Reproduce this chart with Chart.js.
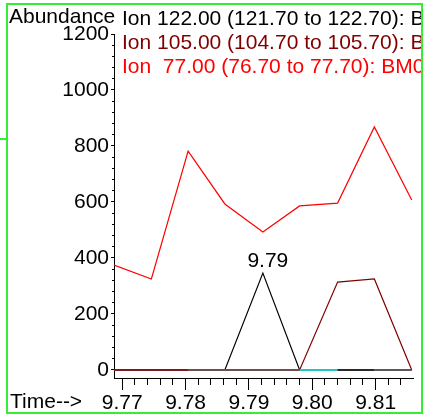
<!DOCTYPE html>
<html><head><meta charset="utf-8">
<script src="https://cdn.jsdelivr.net/npm/chart.js@4.4.1/dist/chart.umd.min.js"></script>
<style>
html,body{margin:0;padding:0;background:#fff;overflow:hidden}
#wrap{position:relative;width:425px;height:417px;background:#fff}
canvas{position:absolute;left:0;top:0}
#clip{position:absolute;left:0;top:0;width:421px;height:417px;overflow:hidden;pointer-events:none}
.t{position:absolute;font-family:"Liberation Sans",Arial,sans-serif;font-size:21px;white-space:pre;line-height:21px}
#frame{position:absolute;left:6px;top:3px;width:413px;height:407px;border:2px solid #33ee33;pointer-events:none}
#nub{position:absolute;left:0;top:138px;width:7px;height:2px;background:#33ee33}
</style></head>
<body>
<div id="wrap">
  <canvas id="c" width="425" height="417"></canvas>
  <div id="clip">
    <div class="t" style="left:9px;top:5px;color:#000">Abundance</div>
    <div class="t" style="left:122px;top:7px;color:#000">Ion 122.00 (121.70 to 122.70): BM0</div>
    <div class="t" style="left:122px;top:31px;color:#800000">Ion 105.00 (104.70 to 105.70): BM0</div>
    <div class="t" style="left:122px;top:55px;color:#ff0000">Ion  77.00 (76.70 to 77.70): BM0</div>
    <div class="t" style="left:10px;top:390px;color:#000">Time--&gt;</div>
  </div>
  <div id="frame"></div>
  <div id="nub"></div>
</div>
<script>
// ---- data ----
const times   = [9.7687, 9.7746, 9.7804, 9.7862, 9.7922, 9.7980, 9.8040, 9.8098, 9.8157];
const ion122  = [0, 0, 0, 0, 346, 0, 0, 0, 0];
const ion105  = [0, 0, 0, 0, 0, 0, 314, 325, 0];
const ion77   = [375, 325, 782, 593, 493, 586, 596, 868, 607];
const baseline = [0, 0, 0, 0, 0, 0, 0, 0, 0];
const yTicks  = [0, 200, 400, 600, 800, 1000, 1200];
const yMinorTicks = [0,40,80,120,160,200,240,280,320,360,400,440,480,520,560,600,640,680,720,760,800,840,880,920,960,1000,1040,1080,1120,1160,1200];
const xTicks  = [9.77, 9.78, 9.79, 9.80, 9.81];
const xMinorTicks = [9.770,9.772,9.774,9.776,9.778,9.780,9.782,9.784,9.786,9.788,9.790,9.792,9.794,9.796,9.798,9.800,9.802,9.804,9.806,9.808,9.810,9.812,9.814];
const peakLabel = "9.79";
const xMin = 9.7687, xMax = 9.8159, yMin = -28.6, yMax = 1200;

// ---- styles ----
const FONT = '"Liberation Sans", Arial, sans-serif';
const baseSegColors = ['#7a1c1c','#7a1c1c','#6e5050','#6e5050','#6e5050','#22c4c4','#2a2a2a','#5a5a5a'];

const toPts = arr => arr.map((v, i) => ({x: times[i], y: v}));

const peakLabelPlugin = {
  id: 'peakLabel',
  afterDatasetsDraw(chart) {
    const meta = chart.getDatasetMeta(1);
    const idx = ion122.indexOf(Math.max(...ion122));
    const pt = meta.data[idx];
    const ctx = chart.ctx;
    ctx.save();
    ctx.font = '21px ' + FONT;
    ctx.fillStyle = '#000';
    ctx.textAlign = 'center';
    ctx.textBaseline = 'alphabetic';
    ctx.fillText(peakLabel, pt.x + 5, pt.y - 6);
    ctx.restore();
  }
};

new Chart(document.getElementById('c'), {
  type: 'line',
  data: {
    datasets: [
      {label: 'base', data: toPts(baseline), borderWidth: 2, pointRadius: 0,
       segment: {borderColor: c => baseSegColors[c.p0DataIndex]}, borderColor: '#6e5050'},
      {label: 'Ion 122.00', data: toPts(ion122), borderColor: '#000000', borderWidth: 1.2, pointRadius: 0},
      {label: 'Ion 105.00', data: toPts(ion105), borderColor: '#800000', borderWidth: 1.2, pointRadius: 0},
      {label: 'Ion 77.00', data: toPts(ion77), borderColor: '#ff0000', borderWidth: 1.2, pointRadius: 0}
    ]
  },
  options: {
    responsive: false,
    animation: false,
    devicePixelRatio: 1,
    layout: {padding: {top: 34, right: 12, left: 0, bottom: 0}},
    plugins: {legend: {display: false}, tooltip: {enabled: false}},
    elements: {line: {tension: 0}},
    scales: {
      x: {
        type: 'linear', position: 'bottom', weight: 1, min: xMin, max: xMax,
        afterBuildTicks: s => { s.ticks = xTicks.map(v => ({value: v})); },
        afterFit: s => { s.height = 39; },
        border: {display: true, color: '#000', width: 1},
        grid: {drawOnChartArea: false, drawTicks: true, tickLength: 12, color: '#000', tickColor: '#000', lineWidth: 1},
        ticks: {color: '#000', font: {family: FONT, size: 21}, padding: 1, maxRotation: 0, autoSkip: false,
                callback: v => Number(v).toFixed(2)}
      },
      xMinor: {
        type: 'linear', position: 'bottom', weight: 0, min: xMin, max: xMax,
        afterBuildTicks: s => { s.ticks = xMinorTicks.map(v => ({value: v})); },
        afterFit: s => { s.height = 0; },
        border: {display: false},
        grid: {drawOnChartArea: false, drawTicks: true, tickLength: 7, color: '#000', tickColor: '#000', lineWidth: 1},
        ticks: {display: false}
      },
      y: {
        type: 'linear', position: 'left', weight: 1, min: yMin, max: yMax,
        afterBuildTicks: s => { s.ticks = yTicks.map(v => ({value: v})); },
        afterFit: s => { s.width = 114; },
        border: {display: true, color: '#000', width: 1},
        grid: {drawOnChartArea: false, drawTicks: true, tickLength: 3, color: '#000', tickColor: '#000', lineWidth: 1},
        ticks: {color: '#000', font: {family: FONT, size: 21}, padding: 2, callback: v => String(v)}
      },
      yMinor: {
        type: 'linear', position: 'left', weight: 0, min: yMin, max: yMax,
        afterBuildTicks: s => { s.ticks = yMinorTicks.map(v => ({value: v})); },
        afterFit: s => { s.width = 0; },
        border: {display: false},
        grid: {drawOnChartArea: false, drawTicks: true, tickLength: 2, color: '#000', tickColor: '#000', lineWidth: 1},
        ticks: {display: false}
      }
    }
  },
  plugins: [peakLabelPlugin]
});
</script>
</body></html>
